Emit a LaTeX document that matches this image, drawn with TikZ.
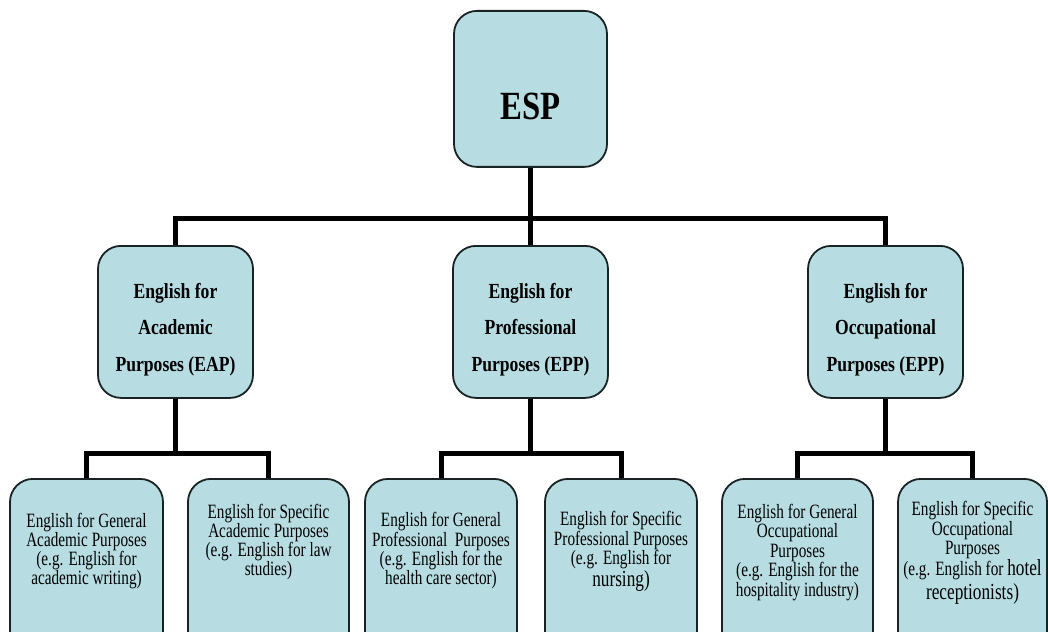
\documentclass[tikz,border=0pt]{standalone}
\usepackage{fontspec}
\setmainfont{Liberation Serif}[FakeStretch=0.82]
\newfontfamily\leaffont{Liberation Serif}[FakeStretch=0.75]
\usepackage{xcolor}
\usetikzlibrary{positioning}
\definecolor{boxfill}{RGB}{183,221,227}
\definecolor{boxline}{RGB}{25,35,35}
\tikzset{
  card/.style={draw=boxline, line width=1.8pt, fill=boxfill, rounded corners=23pt, anchor=north, inner sep=0pt},
  rootbox/.style={card, minimum width=153pt, minimum height=156pt},
  midbox/.style={card, minimum width=155pt, minimum height=152pt},
  leafbox/.style={card, minimum height=185pt},
  roottext/.style={inner sep=0pt, font=\fontsize{40}{44}\selectfont\bfseries},
  midtext/.style={align=center, inner sep=0pt, font=\fontsize{21.5}{36.5}\selectfont\bfseries},
  leaftext/.style={align=center, inner sep=0pt, font=\leaffont\fontsize{20.3}{18.5}\selectfont},
  wideleaftext/.style={leaftext, font=\leaffont\fontsize{20.3}{19.5}\selectfont},
  bus/.style={line width=5pt, black},
}
\newcommand{\bigword}[1]{{\fontsize{23}{19.5}\selectfont #1}}

\begin{document}
\begin{tikzpicture}[x=1pt, y=-1pt]
  \useasboundingbox (0,0) rectangle (1048,631);
  \clip (0,0) rectangle (1048,631);

  % root
  \node[rootbox] (esp) at (530.5,10) {};
  \node[roottext, below=83pt of esp.north] (esplabel) {ESP};

  % second level
  \node[midbox] (eap) at (175.5,245) {};
  \node[midbox] (epp) at (530.5,245) {};
  \node[midbox] (eop) at (885.5,245) {};
  \node[midtext, below=38pt of eap.north] (eaptext) {English for\\Academic\\Purposes (EAP)};
  \node[midtext, below=38pt of epp.north] (epptext) {English for\\Professional\\Purposes (EPP)};
  \node[midtext, below=38pt of eop.north] (eoptext) {English for\\Occupational\\Purposes (EPP)};

  % leaves
  \node[leafbox, minimum width=153pt] (geap) at (86.5,478) {};
  \node[leafbox, minimum width=161pt] (seap) at (268.5,478) {};
  \node[leafbox, minimum width=152pt] (gepp) at (441,478) {};
  \node[leafbox, minimum width=152pt] (sepp) at (621,478) {};
  \node[leafbox, minimum width=151pt] (geop) at (797.5,478) {};
  \node[leafbox, minimum width=149pt] (seop) at (972.5,478) {};

  \node[leaftext, below=35pt of geap.north] (geaptext) {English for General\\Academic Purposes\\(e.g. English for\\academic writing)};
  \node[leaftext, below=26pt of seap.north] (seaptext) {English for Specific\\Academic Purposes\\(e.g. English for law\\studies)};
  \node[leaftext, below=34pt of gepp.north] (gepptext) {English for General\\Professional\ \ Purposes\\(e.g. English for the\\health care sector)};
  \node[leaftext, below=33pt of sepp.north] (sepptext) {English for Specific\\Professional Purposes\\(e.g. English for\\\bigword{nursing)}};
  \node[wideleaftext, below=26pt of geop.north] (geoptext) {English for General\\Occupational\\Purposes\\(e.g. English for the\\hospitality industry)};
  \node[wideleaftext, below=23pt of seop.north] (seoptext) {English for Specific\\Occupational\\Purposes\\(e.g. English for \bigword{hotel}\\[2pt]\bigword{receptionists)}};

  % connectors
  \coordinate (topbus) at (530.5,218);
  \draw[bus] (esp.south) -- (topbus);
  \draw[bus] (eap.north) |- (topbus) -| (eop.north);
  \draw[bus] (topbus) -- (epp.north);

  \draw[bus] (eap.south) -- ++(0,55) coordinate (eapbus);
  \draw[bus] (geap.north) |- (eapbus) -| (seap.north);
  \draw[bus] (epp.south) -- ++(0,55) coordinate (eppbus);
  \draw[bus] (gepp.north) |- (eppbus) -| (sepp.north);
  \draw[bus] (eop.south) -- ++(0,55) coordinate (eopbus);
  \draw[bus] (geop.north) |- (eopbus) -| (seop.north);
\end{tikzpicture}
\end{document}
